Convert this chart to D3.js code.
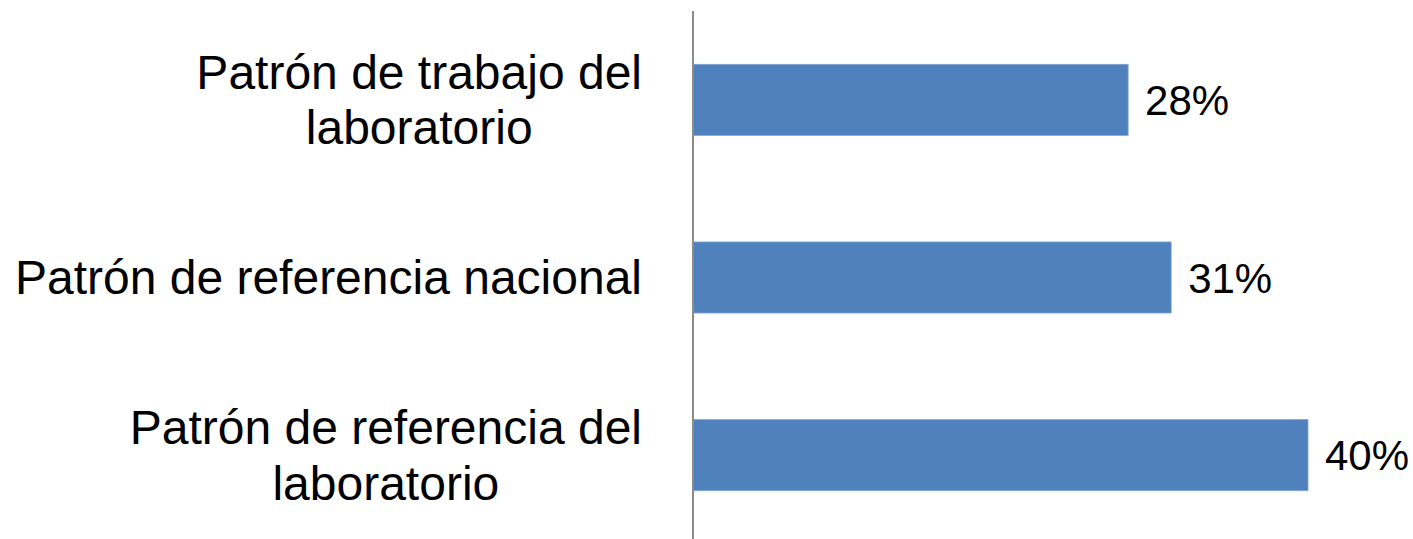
<!DOCTYPE html>
<html>
<head>
<meta charset="utf-8">
<script src="https://cdn.jsdelivr.net/npm/d3@7"></script>
<style>
  body { margin: 0; background: #ffffff; }
</style>
</head>
<body>
<div id="chart"></div>
<script>
// categories top to bottom, each split in its wrapped lines
const categories = [
    ["Patrón de trabajo del", "laboratorio"],
    ["Patrón de referencia nacional"],
    ["Patrón de referencia del", "laboratorio"]
];
const values = [28.3, 31.1, 40.0];
const valueLabels = ["28%", "31%", "40%"];

const width = 1413;
const height = 539;
const axisX = 693;
const labelGap = 51;
const fontFamily = "'Liberation Sans', Arial, sans-serif";

const svg = d3.select("#chart")
    .append("svg")
    .attr("width", width)
    .attr("height", height)
    .style("background-color", "#ffffff");

const data = categories.map((lines, i) => ({
    key: i,
    lines,
    value: values[i],
    label: valueLabels[i]
}));

const y = d3.scaleBand()
    .domain(data.map(d => d.key))
    .range([11, 544])
    .paddingInner(0.6)
    .paddingOuter(0.3);

const x = d3.scaleLinear()
    .domain([0, 40])
    .range([axisX, 1308]);

// bars
svg.selectAll("rect.bar")
    .data(data)
    .enter()
    .append("rect")
    .attr("class", "bar")
    .attr("x", x(0))
    .attr("y", d => y(d.key))
    .attr("width", d => x(d.value) - x(0))
    .attr("height", y.bandwidth())
    .attr("fill", "#4f81bd")
    .attr("stroke", "#7fa3d0")
    .attr("stroke-width", 0.8);

// vertical category axis line
svg.append("line")
    .attr("x1", axisX)
    .attr("x2", axisX)
    .attr("y1", 11)
    .attr("y2", 544)
    .attr("stroke", "#8c8c8c")
    .attr("stroke-width", 2);

// value labels
svg.selectAll("text.value")
    .data(data)
    .enter()
    .append("text")
    .attr("class", "value")
    .attr("x", d => x(d.value) + 17)
    .attr("y", d => y(d.key) + y.bandwidth() / 2)
    .attr("dy", "0.36em")
    .style("font-family", fontFamily)
    .style("font-size", "42px")
    .style("fill", "#000000")
    .text(d => d.label);

// category labels, lines centred on each other, block right-aligned to the axis
const catGroups = svg.selectAll("g.cat")
    .data(data)
    .enter()
    .append("g")
    .attr("class", "cat");

catGroups.each(function (d) {
    const g = d3.select(this);
    const n = d.lines.length;
    const cy = y(d.key) + y.bandwidth() / 2;
    const texts = g.selectAll("text")
        .data(d.lines)
        .enter()
        .append("text")
        .attr("x", 0)
        .attr("y", cy)
        .attr("dy", (t, i) => (0.35 + (i - (n - 1) / 2) * 1.15) + "em")
        .attr("text-anchor", "middle")
        .style("font-family", fontFamily)
        .style("font-size", "48px")
        .style("fill", "#000000")
        .text(t => t);
    let maxW = 0;
    texts.each(function () { maxW = Math.max(maxW, this.getComputedTextLength()); });
    g.attr("transform", `translate(${axisX - labelGap - maxW / 2},0)`);
});
</script>
</body>
</html>
